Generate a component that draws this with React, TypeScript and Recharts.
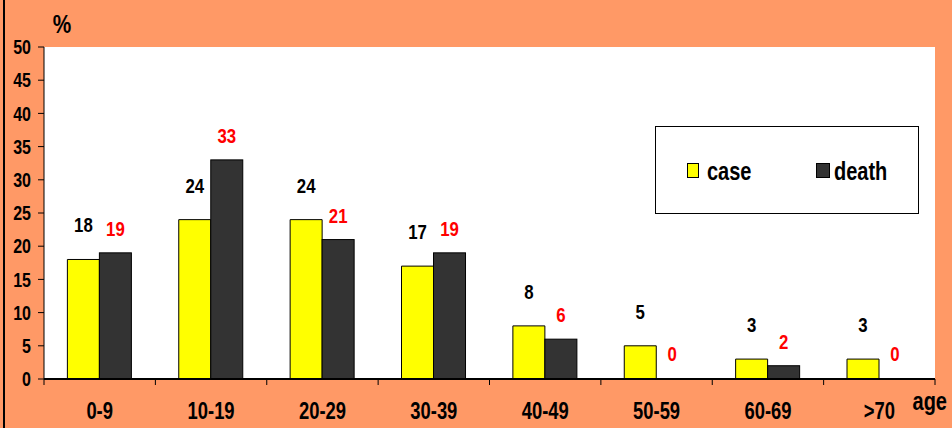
import React from 'react';
import { BarChart, Bar, XAxis, YAxis, CartesianGrid, LabelList, Legend, Label } from 'recharts';

const ageGroups = ['0-9', '10-19', '20-29', '30-39', '40-49', '50-59', '60-69', '>70'];
const caseValues = [18, 24, 24, 17, 8, 5, 3, 3];
const deathValues = [19, 33, 21, 19, 6, 0, 2, 0];
const yTicks = [0, 5, 10, 15, 20, 25, 30, 35, 40, 45, 50];

const data = ageGroups.map((g, i) => ({ group: g, case: caseValues[i], death: deathValues[i] }));

const FONT = "'Liberation Sans', Arial, Helvetica, sans-serif";
const ORANGE = '#FF9966';
const YELLOW = '#FFFF00';
const DARK = '#333333';
const SQUEEZE = 0.8;
const X_TICK_MARGIN = 24;
const X_TICK_LEN = 6;

type NTProps = { x: number; y: number; anchor?: 'start' | 'middle' | 'end'; size: number; fill?: string; dy?: string | number; children: any };
const NarrowText = ({ x, y, anchor = 'middle', size, fill = '#000', dy = 0, children }: NTProps) => (
  <g transform={`translate(${x},${y}) scale(${SQUEEZE},1)`}>
    <text x={0} y={0} dy={dy} textAnchor={anchor} fill={fill} fontFamily={FONT} fontWeight="bold" fontSize={size}>
      {children}
    </text>
  </g>
);

const makeLabel = (color: string, lift: number) => (props: any) => {
  const { x, y, width, value } = props;
  return (
    <NarrowText x={Number(x) + Number(width) / 2} y={Number(y) - lift} size={21} fill={color}>
      {value}
    </NarrowText>
  );
};

const BarShape = (props: any) => {
  const { x, y, width, height, fill, value } = props;
  const v = Array.isArray(value) ? value[1] - value[0] : value;
  if (!v) return <g />;
  return <rect x={x} y={y} width={width} height={height} fill={fill} stroke="#000" strokeWidth={1} />;
};

const CategoryTick = (p: any) => {
  const count = Number(p.visibleTicksCount) || ageGroups.length;
  const band = Number(p.width) / count;
  const axisY = p.y - X_TICK_MARGIN;
  const left = p.x - band / 2;
  const right = p.x + band / 2;
  const isLast = p.index === count - 1;
  return (
    <g>
      {Number.isFinite(band) && (
        <line x1={left} x2={left} y1={axisY} y2={axisY + X_TICK_LEN} stroke="#000" strokeWidth={1} />
      )}
      {Number.isFinite(band) && isLast && (
        <line x1={right} x2={right} y1={axisY} y2={axisY + X_TICK_LEN} stroke="#000" strokeWidth={1} />
      )}
      <NarrowText x={p.x} y={p.y} size={23} dy="0.71em">
        {p.payload.value}
      </NarrowText>
    </g>
  );
};

const LegendBox = () => (
  <div
    style={{
      position: 'relative',
      width: 264,
      height: 88,
      boxSizing: 'border-box',
      border: '1px solid #000',
      background: '#fff',
      fontFamily: FONT,
      fontWeight: 'bold',
      fontSize: 25,
      color: '#000',
    }}
  >
    <div style={{ position: 'absolute', left: 31, top: 36, width: 12, height: 15, boxSizing: 'border-box', border: '1px solid #000', background: YELLOW }} />
    <div style={{ position: 'absolute', left: 51, top: 29, lineHeight: '30px', transform: `scaleX(${SQUEEZE})`, transformOrigin: 'left center' }}>case</div>
    <div style={{ position: 'absolute', left: 160, top: 36, width: 14, height: 15, boxSizing: 'border-box', border: '1px solid #000', background: DARK }} />
    <div style={{ position: 'absolute', left: 178, top: 29, lineHeight: '30px', transform: `scaleX(${SQUEEZE})`, transformOrigin: 'left center' }}>death</div>
  </div>
);

export default function App() {
  return (
    <div style={{ position: 'absolute', left: 0, top: 0, width: 952, height: 428, background: ORANGE, overflow: 'hidden' }}>
      <div style={{ position: 'absolute', left: 3, top: 0, width: 2, height: 428, background: '#000' }} />
      <BarChart
        width={952}
        height={428}
        data={data}
        margin={{ top: 47, right: 17, bottom: 0, left: 0 }}
        barCategoryGap="21%"
        barGap={0}
      >
        <CartesianGrid fill="#fff" horizontal={false} vertical={false} stroke="none" />
        <XAxis
          dataKey="group"
          interval={0}
          height={49}
          axisLine={{ stroke: '#000', strokeWidth: 2 }}
          tickLine={false}
          tickSize={0}
          tickMargin={X_TICK_MARGIN}
          tick={CategoryTick}
        >
          <Label
            value="age"
            content={(p: any) => {
              const vb = p.viewBox;
              return (
                <NarrowText x={vb.x + vb.width + 12} y={vb.y + 31} anchor="end" size={25}>
                  age
                </NarrowText>
              );
            }}
          />
        </XAxis>
        <YAxis
          domain={[0, 50]}
          ticks={yTicks}
          interval={0}
          width={44}
          tickSize={6}
          tickMargin={7}
          axisLine={{ stroke: '#000' }}
          tickLine={{ stroke: '#000' }}
          tick={(p: any) => (
            <NarrowText x={p.x} y={p.y} anchor="end" size={20} dy="0.355em">
              {p.payload.value}
            </NarrowText>
          )}
        >
          <Label
            value="%"
            content={(p: any) => {
              const vb = p.viewBox;
              return (
                <NarrowText x={vb.x + vb.width + 18} y={vb.y - 14} size={26}>
                  %
                </NarrowText>
              );
            }}
          />
        </YAxis>
        <Legend
          layout="horizontal"
          verticalAlign="middle"
          align="center"
          content={() => <LegendBox />}
          wrapperStyle={{ position: 'absolute', left: 655, top: 126, width: 264, height: 88 }}
        />
        <Bar dataKey="case" name="case" fill={YELLOW} stroke="#000" strokeWidth={1} isAnimationActive={false}>
          <LabelList dataKey="case" content={makeLabel('#000', 27)} />
        </Bar>
        <Bar
          dataKey="death"
          name="death"
          fill={DARK}
          stroke="#000"
          strokeWidth={1}
          minPointSize={1}
          shape={BarShape}
          isAnimationActive={false}
        >
          <LabelList dataKey="death" content={makeLabel('#FF0000', 17)} />
        </Bar>
      </BarChart>
    </div>
  );
}
